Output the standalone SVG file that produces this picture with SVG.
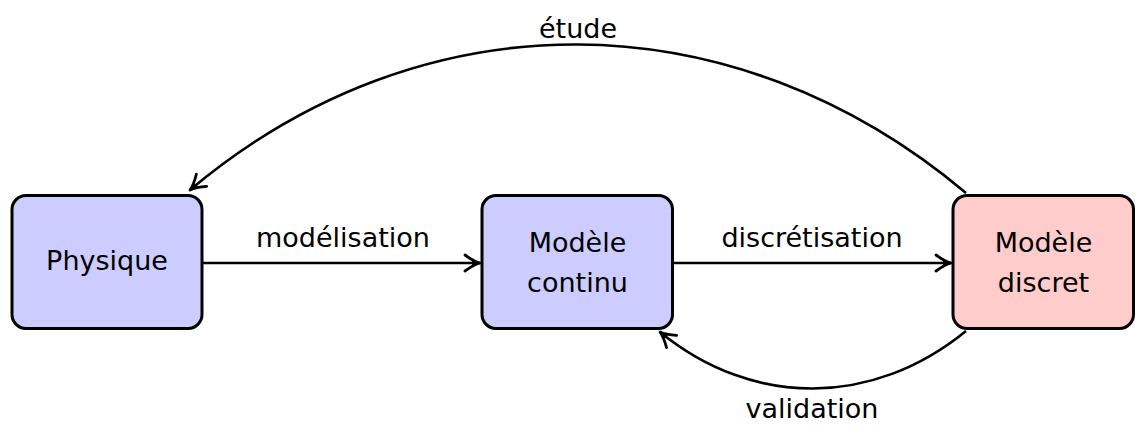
<svg xmlns="http://www.w3.org/2000/svg" width="1135" height="427" viewBox="0 0 1135 427">
  <style>
    .box { stroke: #000; stroke-width: 3; }
    .blue { fill: #ccccff; }
    .red { fill: #ffcccc; }
    .txt { font-family: "DejaVu Sans", sans-serif; font-size: 27px; fill: #000; text-anchor: middle; }
    .conn { fill: none; stroke: #000; stroke-width: 2.6; marker-end: url(#arrow); }
  </style>
  <defs>
    <marker id="arrow" markerUnits="userSpaceOnUse" viewBox="-18 -10 20 20" refX="0" refY="0" markerWidth="20" markerHeight="20" orient="auto">
      <path d="M -15,-8 Q -6,-1.5 0,0 Q -6,1.5 -15,8" fill="none" stroke="#000" stroke-width="2.8" stroke-linecap="round" stroke-linejoin="round"/>
      <path d="M -8,-3 Q -4,-0.7 0,0 Q -4,0.7 -8,3 Z" fill="#000"/>
    </marker>
  </defs>
  <rect width="1135" height="427" fill="#fff"/>

  <g id="connectors">
    <path class="conn" d="M 203,263 L 480,263"/>
    <path class="conn" d="M 673,263 L 951,263"/>
    <path class="conn" d="M 966,193 C 733,-3 423,-6 190,190"/>
    <path class="conn" d="M 966,331 C 873,407 753,408 660,332"/>
  </g>

  <g id="labels">
    <text class="txt" x="343" y="247">modélisation</text>
    <text class="txt" x="812" y="247">discrétisation</text>
    <text class="txt" x="578" y="38">étude</text>
    <text class="txt" x="812" y="418">validation</text>
  </g>

  <g id="physique">
    <rect class="box blue" x="12" y="195.5" width="190" height="133" rx="14" ry="14"/>
    <text class="txt" x="107" y="270">Physique</text>
  </g>

  <g id="modele-continu">
    <rect class="box blue" x="482" y="195.5" width="190.5" height="133" rx="14" ry="14"/>
    <text class="txt" x="577.5" y="252">Modèle</text>
    <text class="txt" x="577.5" y="292">continu</text>
  </g>

  <g id="modele-discret">
    <rect class="box red" x="953" y="195.5" width="180.5" height="133" rx="14" ry="14"/>
    <text class="txt" x="1043.5" y="252">Modèle</text>
    <text class="txt" x="1043.5" y="292">discret</text>
  </g>
</svg>
